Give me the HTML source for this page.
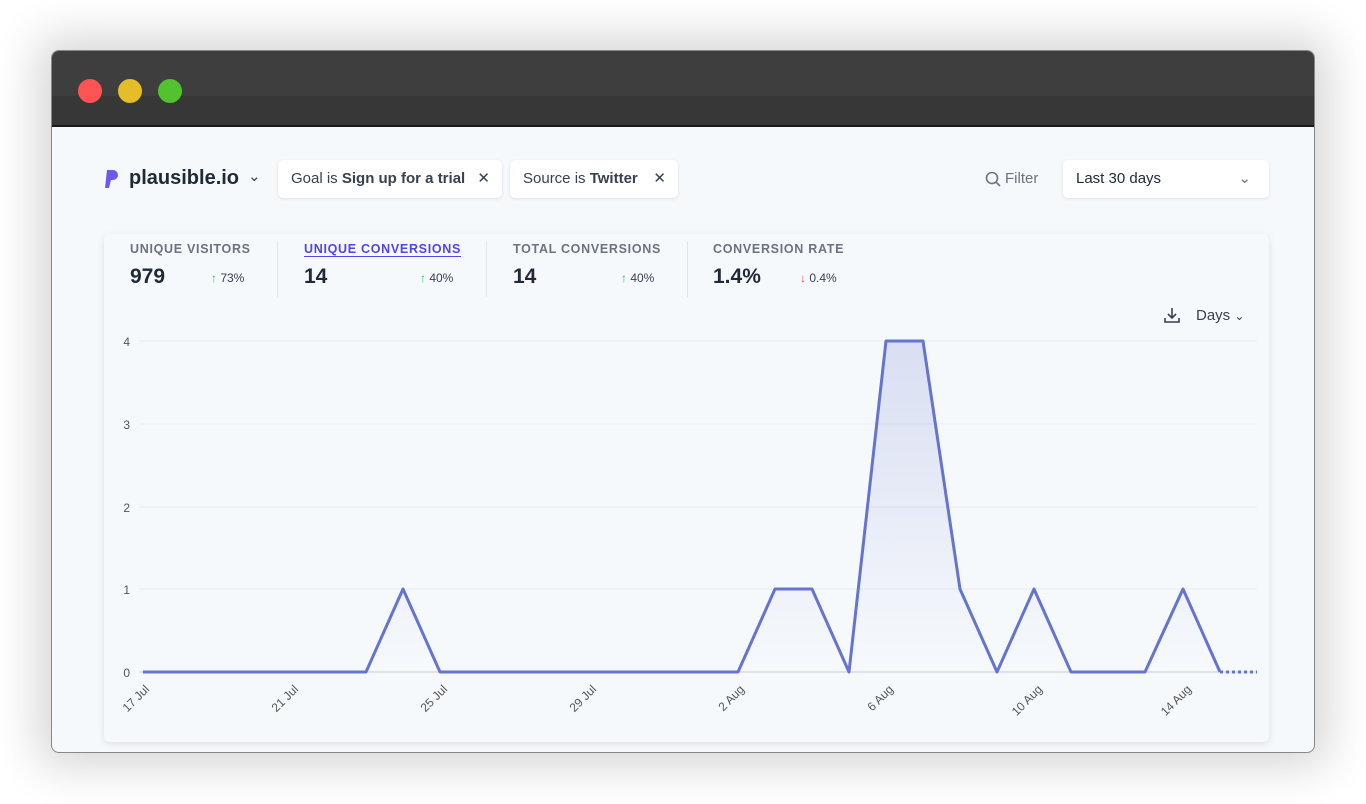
<!DOCTYPE html>
<html><head><meta charset="utf-8"><style>
*{margin:0;padding:0;box-sizing:border-box}
body{width:1366px;height:804px;background:#fff;position:relative;overflow:hidden;font-family:"Liberation Sans",sans-serif}
.win{position:absolute;left:51px;top:50px;width:1264px;height:703px;border-radius:8px;background:#f6f9fc;box-shadow:0 0 45px 14px rgba(0,0,0,.16);overflow:hidden;border:1px solid #888}
.tb{position:absolute;left:0;top:0;width:100%;height:76px;background:linear-gradient(#3e3e3e 0,#3e3e3e 45px,#373737 45px);border-bottom:2px solid #1a1a1a}
.dot{position:absolute;top:28px;width:24px;height:24px;border-radius:50%}
.abs{position:absolute}
.pill{position:absolute;top:109px;height:38px;background:#fff;border-radius:5px;box-shadow:0 1px 3px rgba(0,0,0,.1);font-size:15px;color:#374151;line-height:38px;padding-left:13px}
.card{position:absolute;left:52px;top:183px;width:1165px;height:508px;background:#f6f9fc;box-shadow:0 2px 8px rgba(0,0,0,.1);border-radius:6px}
.lab{position:absolute;top:191px;font-size:12.5px;letter-spacing:.7px;color:#6b7280;font-weight:bold}
.val{position:absolute;top:214px;font-size:21px;font-weight:bold;color:#1f2937}
.ch{position:absolute;top:220px;font-size:12px;color:#374151}
.sep{position:absolute;top:190px;width:1px;height:56px;background:#e2e5ea}
</style></head><body>
<div class="win">
<div class="tb">
<div class="dot" style="left:26px;background:#fe5453"></div>
<div class="dot" style="left:66px;background:#e5bd2b"></div>
<div class="dot" style="left:106px;background:#52c22f"></div>
</div>
<svg class="abs" style="left:52px;top:118px" width="16" height="20"><path d="M3 1h6a5 5 0 0 1 0 10H7l-2 8H1z" fill="#6a5bed"/></svg>
<div class="abs" style="left:77px;top:116px;font-size:20px;font-weight:bold;color:#1f2937">plausible.io</div>
<div class="abs" style="left:196px;top:116px;font-size:15px;color:#374151">⌄</div>
<div class="pill" style="left:226px;width:224px">Goal is <b>Sign up for a trial</b><span style="position:absolute;right:12px">✕</span></div>
<div class="pill" style="left:458px;width:168px">Source is <b>Twitter</b><span style="position:absolute;right:12px">✕</span></div>
<svg class="abs" style="left:933px;top:120px" width="16" height="16"><circle cx="7" cy="7" r="5.5" fill="none" stroke="#6b7280" stroke-width="1.6"/><path d="M11 11l4 4" stroke="#6b7280" stroke-width="1.6"/></svg>
<div class="abs" style="left:953px;top:119px;font-size:15px;color:#6b7280">Filter</div>
<div class="pill" style="left:1011px;width:206px;font-weight:500;color:#1f2937">Last 30 days<span style="position:absolute;right:18px;color:#6b7280">⌄</span></div>
<div class="card"></div>
<div class="lab" style="left:78px">UNIQUE VISITORS</div>
<div class="val" style="left:78px">979</div><div class="ch" style="left:159px"><span style="color:#22c55e">↑</span> 73%</div>
<div class="sep" style="left:225px"></div>
<div class="lab" style="left:252px;color:#4f46e5;border-bottom:1px solid #4f46e5">UNIQUE CONVERSIONS</div>
<div class="val" style="left:252px">14</div><div class="ch" style="left:368px"><span style="color:#22c55e">↑</span> 40%</div>
<div class="sep" style="left:434px"></div>
<div class="lab" style="left:461px">TOTAL CONVERSIONS</div>
<div class="val" style="left:461px">14</div><div class="ch" style="left:569px"><span style="color:#22c55e">↑</span> 40%</div>
<div class="sep" style="left:635px"></div>
<div class="lab" style="left:661px">CONVERSION RATE</div>
<div class="val" style="left:661px">1.4%</div><div class="ch" style="left:748px"><span style="color:#ef4444">↓</span> 0.4%</div>
<svg class="abs" style="left:1111px;top:255px" width="18" height="18"><path d="M9 2v9M5 8l4 4 4-4M2 12v4h14v-4" fill="none" stroke="#374151" stroke-width="1.6"/></svg>
<div class="abs" style="left:1144px;top:256px;font-size:15px;color:#374151">Days <span style="font-size:12px">⌄</span></div>
</div>
<svg class="abs" style="left:0;top:0" width="1366" height="804">
<defs><linearGradient id="g" x1="0" y1="341" x2="0" y2="672" gradientUnits="userSpaceOnUse"><stop offset="0" stop-color="#6574cd" stop-opacity=".2"/><stop offset="1" stop-color="#6574cd" stop-opacity="0"/></linearGradient></defs>
<g stroke="#e8ebef" stroke-width="1">
<line x1="139" y1="341" x2="1257" y2="341"/><line x1="139" y1="424" x2="1257" y2="424"/><line x1="139" y1="507" x2="1257" y2="507"/><line x1="139" y1="589" x2="1257" y2="589"/><line x1="139" y1="672" x2="1257" y2="672" stroke="#ccc"/></g>
<g font-size="12" fill="#555" text-anchor="end"><text x="130" y="346">4</text><text x="130" y="429">3</text><text x="130" y="512">2</text><text x="130" y="594">1</text><text x="130" y="677">0</text></g>
<path d="M143 672L366 672L403 589L440 672L738 672L775 589L812 589L849 672L886 341L923 341L960 589L997 672L1034 589L1071 672L1145 672L1183 589L1220 672Z" fill="url(#g)"/>
<polyline points="143,672 366,672 403,589 440,672 738,672 775,589 812,589 849,672 886,341 923,341 960,589 997,672 1034,589 1071,672 1145,672 1183,589 1220,672" fill="none" stroke="#6574cd" stroke-width="3" stroke-linejoin="round"/>
<line x1="1220" y1="672" x2="1257" y2="672" stroke="#6574cd" stroke-width="3" stroke-dasharray="3,3"/>
<g font-size="12" fill="#555" text-anchor="end">
<text transform="translate(150,690) rotate(-45)">17 Jul</text>
<text transform="translate(299,690) rotate(-45)">21 Jul</text>
<text transform="translate(448,690) rotate(-45)">25 Jul</text>
<text transform="translate(597,690) rotate(-45)">29 Jul</text>
<text transform="translate(745,690) rotate(-45)">2 Aug</text>
<text transform="translate(894,690) rotate(-45)">6 Aug</text>
<text transform="translate(1043,690) rotate(-45)">10 Aug</text>
<text transform="translate(1192,690) rotate(-45)">14 Aug</text>
</g></svg>
</body></html>
